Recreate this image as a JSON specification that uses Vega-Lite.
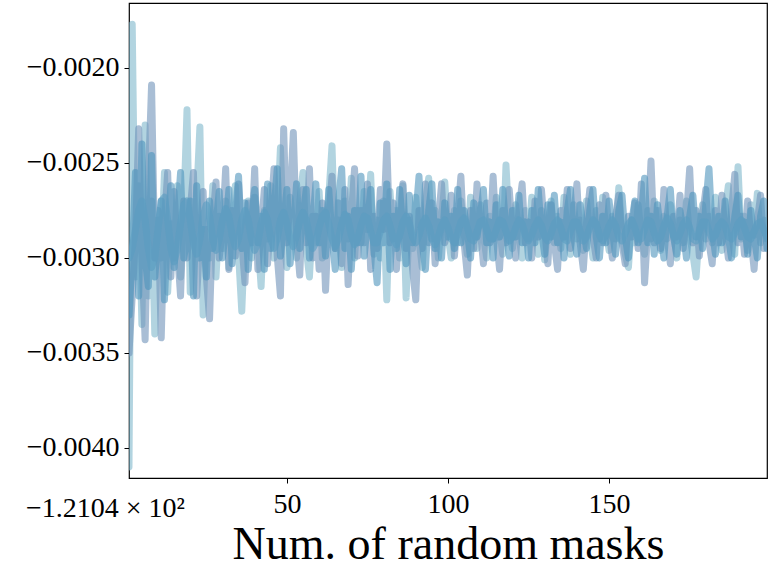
{
 "$schema": "https://vega.github.io/schema/vega-lite/v6.json",
 "width": 638,
 "height": 475,
 "autosize": "none",
 "padding": {"left": 129, "top": 3, "right": 10, "bottom": 89},
 "background": "white",
 "config": {"view": {"stroke": "black", "strokeWidth": 1.2}, "font": "Liberation Serif"},
 "datasets": {
  "runs": [
{"x":1,"a":-0.00410,"b":-0.00350,"c":-0.00330,"d":-0.00300},
{"x":2,"a":-0.00177,"b":-0.00320,"c":-0.00300,"d":-0.00295},
{"x":3,"a":-0.00310,"b":-0.00290,"c":-0.00255,"d":-0.00285},
{"x":4,"a":-0.00262,"b":-0.00232,"c":-0.00320,"d":-0.00275},
{"x":5,"a":-0.00335,"b":-0.00300,"c":-0.00240,"d":-0.00270},
{"x":6,"a":-0.00230,"b":-0.00343,"c":-0.00300,"d":-0.00280},
{"x":7,"a":-0.00320,"b":-0.00260,"c":-0.00315,"d":-0.00295},
{"x":8,"a":-0.00270,"b":-0.00209,"c":-0.00246,"d":-0.00305},
{"x":9,"a":-0.00340,"b":-0.00300,"c":-0.00310,"d":-0.00300},
{"x":10,"a":-0.00280,"b":-0.00275,"c":-0.00290,"d":-0.00285},
{"x":11,"a":-0.00300,"b":-0.00342,"c":-0.00270,"d":-0.00270},
{"x":12,"a":-0.00255,"b":-0.00280,"c":-0.00322,"d":-0.00268},
{"x":13,"a":-0.00318,"b":-0.00255,"c":-0.00285,"d":-0.00280},
{"x":14,"a":-0.00282,"b":-0.00310,"c":-0.00262,"d":-0.00295},
{"x":15,"a":-0.00300,"b":-0.00265,"c":-0.00305,"d":-0.00302},
{"x":16,"a":-0.00262,"b":-0.00295,"c":-0.00280,"d":-0.00295},
{"x":17,"a":-0.00310,"b":-0.00320,"c":-0.00255,"d":-0.00282},
{"x":18,"a":-0.00275,"b":-0.00270,"c":-0.00300,"d":-0.00272},
{"x":19,"a":-0.00222,"b":-0.00300,"c":-0.00290,"d":-0.00270},
{"x":20,"a":-0.00318,"b":-0.00275,"c":-0.00270,"d":-0.00280},
{"x":21,"a":-0.00290,"b":-0.00255,"c":-0.00320,"d":-0.00292},
{"x":22,"a":-0.00268,"b":-0.00320,"c":-0.00262,"d":-0.00298},
{"x":23,"a":-0.00231,"b":-0.00290,"c":-0.00300,"d":-0.00290},
{"x":24,"a":-0.00330,"b":-0.00265,"c":-0.00285,"d":-0.00278},
{"x":25,"a":-0.00285,"b":-0.00310,"c":-0.00310,"d":-0.00272},
{"x":26,"a":-0.00300,"b":-0.00332,"c":-0.00270,"d":-0.00278},
{"x":27,"a":-0.00262,"b":-0.00280,"c":-0.00295,"d":-0.00290},
{"x":28,"a":-0.00310,"b":-0.00260,"c":-0.00282,"d":-0.00296},
{"x":29,"a":-0.00278,"b":-0.00300,"c":-0.00265,"d":-0.00290},
{"x":30,"a":-0.00295,"b":-0.00285,"c":-0.00300,"d":-0.00280},
{"x":31,"a":-0.00270,"b":-0.00253,"c":-0.00285,"d":-0.00274},
{"x":32,"a":-0.00305,"b":-0.00306,"c":-0.00264,"d":-0.00278},
{"x":33,"a":-0.00280,"b":-0.00275,"c":-0.00303,"d":-0.00288},
{"x":34,"a":-0.00262,"b":-0.00299,"c":-0.00278,"d":-0.00294},
{"x":35,"a":-0.00298,"b":-0.00261,"c":-0.00257,"d":-0.00290},
{"x":36,"a":-0.00328,"b":-0.00292,"c":-0.00295,"d":-0.00280},
{"x":37,"a":-0.00285,"b":-0.00313,"c":-0.00271,"d":-0.00275},
{"x":38,"a":-0.00270,"b":-0.00271,"c":-0.00306,"d":-0.00280},
{"x":39,"a":-0.00300,"b":-0.00292,"c":-0.00281,"d":-0.00290},
{"x":40,"a":-0.00268,"b":-0.00253,"c":-0.00264,"d":-0.00296},
{"x":41,"a":-0.00290,"b":-0.00306,"c":-0.00292,"d":-0.00292},
{"x":42,"a":-0.00315,"b":-0.00285,"c":-0.00278,"d":-0.00282},
{"x":43,"a":-0.00275,"b":-0.00264,"c":-0.00306,"d":-0.00276},
{"x":44,"a":-0.00290,"b":-0.00303,"c":-0.00261,"d":-0.00280},
{"x":45,"a":-0.00262,"b":-0.00278,"c":-0.00295,"d":-0.00290},
{"x":46,"a":-0.00300,"b":-0.00253,"c":-0.00275,"d":-0.00295},
{"x":47,"a":-0.00280,"b":-0.00299,"c":-0.00253,"d":-0.00290},
{"x":48,"a":-0.00242,"b":-0.00320,"c":-0.00299,"d":-0.00280},
{"x":49,"a":-0.00290,"b":-0.00232,"c":-0.00281,"d":-0.00276},
{"x":50,"a":-0.00305,"b":-0.00292,"c":-0.00264,"d":-0.00282},
{"x":51,"a":-0.00268,"b":-0.00271,"c":-0.00303,"d":-0.00290},
{"x":52,"a":-0.00285,"b":-0.00234,"c":-0.00285,"d":-0.00294},
{"x":53,"a":-0.00300,"b":-0.00289,"c":-0.00261,"d":-0.00288},
{"x":54,"a":-0.00270,"b":-0.00309,"c":-0.00295,"d":-0.00280},
{"x":55,"a":-0.00255,"b":-0.00264,"c":-0.00278,"d":-0.00276},
{"x":56,"a":-0.00295,"b":-0.00292,"c":-0.00264,"d":-0.00280},
{"x":57,"a":-0.00310,"b":-0.00253,"c":-0.00300,"d":-0.00288},
{"x":58,"a":-0.00278,"b":-0.00300,"c":-0.00281,"d":-0.00295},
{"x":59,"a":-0.00292,"b":-0.00278,"c":-0.00261,"d":-0.00292},
{"x":60,"a":-0.00265,"b":-0.00306,"c":-0.00292,"d":-0.00284},
{"x":61,"a":-0.00300,"b":-0.00271,"c":-0.00275,"d":-0.00278},
{"x":62,"a":-0.00282,"b":-0.00317,"c":-0.00299,"d":-0.00276},
{"x":63,"a":-0.00268,"b":-0.00278,"c":-0.00264,"d":-0.00282},
{"x":64,"a":-0.00241,"b":-0.00257,"c":-0.00289,"d":-0.00290},
{"x":65,"a":-0.00295,"b":-0.00295,"c":-0.00306,"d":-0.00294},
{"x":66,"a":-0.00280,"b":-0.00271,"c":-0.00271,"d":-0.00290},
{"x":67,"a":-0.00305,"b":-0.00303,"c":-0.00253,"d":-0.00282},
{"x":68,"a":-0.00270,"b":-0.00264,"c":-0.00295,"d":-0.00277},
{"x":69,"a":-0.00290,"b":-0.00314,"c":-0.00278,"d":-0.00280},
{"x":70,"a":-0.00258,"b":-0.00278,"c":-0.00306,"d":-0.00288},
{"x":71,"a":-0.00300,"b":-0.00253,"c":-0.00275,"d":-0.00293},
{"x":72,"a":-0.00275,"b":-0.00299,"c":-0.00292,"d":-0.00290},
{"x":73,"a":-0.00292,"b":-0.00275,"c":-0.00257,"d":-0.00283},
{"x":74,"a":-0.00265,"b":-0.00292,"c":-0.00299,"d":-0.00278},
{"x":75,"a":-0.00285,"b":-0.00261,"c":-0.00281,"d":-0.00279},
{"x":76,"a":-0.00256,"b":-0.00306,"c":-0.00264,"d":-0.00286},
{"x":77,"a":-0.00298,"b":-0.00278,"c":-0.00295,"d":-0.00292},
{"x":78,"a":-0.00280,"b":-0.00295,"c":-0.00313,"d":-0.00292},
{"x":79,"a":-0.00300,"b":-0.00264,"c":-0.00271,"d":-0.00286},
{"x":80,"a":-0.00270,"b":-0.00285,"c":-0.00292,"d":-0.00280},
{"x":81,"a":-0.00322,"b":-0.00240,"c":-0.00261,"d":-0.00278},
{"x":82,"a":-0.00265,"b":-0.00292,"c":-0.00306,"d":-0.00283},
{"x":83,"a":-0.00290,"b":-0.00271,"c":-0.00278,"d":-0.00290},
{"x":84,"a":-0.00275,"b":-0.00306,"c":-0.00295,"d":-0.00293},
{"x":85,"a":-0.00300,"b":-0.00281,"c":-0.00264,"d":-0.00288},
{"x":86,"a":-0.00262,"b":-0.00261,"c":-0.00285,"d":-0.00281},
{"x":87,"a":-0.00321,"b":-0.00295,"c":-0.00303,"d":-0.00278},
{"x":88,"a":-0.00280,"b":-0.00278,"c":-0.00267,"d":-0.00282},
{"x":89,"a":-0.00295,"b":-0.00306,"c":-0.00292,"d":-0.00289},
{"x":90,"a":-0.00268,"b":-0.00322,"c":-0.00278,"d":-0.00292},
{"x":91,"a":-0.00290,"b":-0.00275,"c":-0.00257,"d":-0.00288},
{"x":92,"a":-0.00305,"b":-0.00295,"c":-0.00292,"d":-0.00282},
{"x":93,"a":-0.00272,"b":-0.00261,"c":-0.00306,"d":-0.00279},
{"x":94,"a":-0.00258,"b":-0.00292,"c":-0.00275,"d":-0.00283},
{"x":95,"a":-0.00290,"b":-0.00271,"c":-0.00261,"d":-0.00290},
{"x":96,"a":-0.00275,"b":-0.00303,"c":-0.00295,"d":-0.00293},
{"x":97,"a":-0.00300,"b":-0.00281,"c":-0.00281,"d":-0.00289},
{"x":98,"a":-0.00280,"b":-0.00261,"c":-0.00300,"d":-0.00283},
{"x":99,"a":-0.00260,"b":-0.00292,"c":-0.00271,"d":-0.00280},
{"x":100,"a":-0.00288,"b":-0.00285,"c":-0.00289,"d":-0.00284},
{"x":101,"a":-0.00300,"b":-0.00267,"c":-0.00278,"d":-0.00290},
{"x":102,"a":-0.00275,"b":-0.00299,"c":-0.00295,"d":-0.00292},
{"x":103,"a":-0.00292,"b":-0.00278,"c":-0.00264,"d":-0.00287},
{"x":104,"a":-0.00270,"b":-0.00257,"c":-0.00292,"d":-0.00281},
{"x":105,"a":-0.00285,"b":-0.00292,"c":-0.00275,"d":-0.00279},
{"x":106,"a":-0.00298,"b":-0.00309,"c":-0.00286,"d":-0.00284},
{"x":107,"a":-0.00268,"b":-0.00275,"c":-0.00300,"d":-0.00290},
{"x":108,"a":-0.00282,"b":-0.00295,"c":-0.00271,"d":-0.00291},
{"x":109,"a":-0.00295,"b":-0.00261,"c":-0.00289,"d":-0.00286},
{"x":110,"a":-0.00272,"b":-0.00285,"c":-0.00278,"d":-0.00281},
{"x":111,"a":-0.00288,"b":-0.00303,"c":-0.00264,"d":-0.00280},
{"x":112,"a":-0.00300,"b":-0.00271,"c":-0.00292,"d":-0.00285},
{"x":113,"a":-0.00278,"b":-0.00292,"c":-0.00281,"d":-0.00290},
{"x":114,"a":-0.00290,"b":-0.00257,"c":-0.00300,"d":-0.00290},
{"x":115,"a":-0.00268,"b":-0.00289,"c":-0.00272,"d":-0.00285},
{"x":116,"a":-0.00285,"b":-0.00306,"c":-0.00289,"d":-0.00280},
{"x":117,"a":-0.00298,"b":-0.00275,"c":-0.00264,"d":-0.00281},
{"x":118,"a":-0.00251,"b":-0.00292,"c":-0.00285,"d":-0.00286},
{"x":119,"a":-0.00285,"b":-0.00264,"c":-0.00299,"d":-0.00291},
{"x":120,"a":-0.00295,"b":-0.00286,"c":-0.00275,"d":-0.00289},
{"x":121,"a":-0.00272,"b":-0.00300,"c":-0.00289,"d":-0.00284},
{"x":122,"a":-0.00288,"b":-0.00275,"c":-0.00267,"d":-0.00280},
{"x":123,"a":-0.00300,"b":-0.00261,"c":-0.00292,"d":-0.00282},
{"x":124,"a":-0.00275,"b":-0.00292,"c":-0.00281,"d":-0.00288},
{"x":125,"a":-0.00290,"b":-0.00281,"c":-0.00300,"d":-0.00291},
{"x":126,"a":-0.00268,"b":-0.00300,"c":-0.00275,"d":-0.00288},
{"x":127,"a":-0.00285,"b":-0.00270,"c":-0.00292,"d":-0.00283},
{"x":128,"a":-0.00298,"b":-0.00289,"c":-0.00264,"d":-0.00280},
{"x":129,"a":-0.00275,"b":-0.00264,"c":-0.00286,"d":-0.00283},
{"x":130,"a":-0.00301,"b":-0.00285,"c":-0.00298,"d":-0.00289},
{"x":131,"a":-0.00282,"b":-0.00303,"c":-0.00272,"d":-0.00291},
{"x":132,"a":-0.00270,"b":-0.00272,"c":-0.00289,"d":-0.00287},
{"x":133,"a":-0.00292,"b":-0.00292,"c":-0.00267,"d":-0.00282},
{"x":134,"a":-0.00278,"b":-0.00306,"c":-0.00292,"d":-0.00280},
{"x":135,"a":-0.00295,"b":-0.00275,"c":-0.00281,"d":-0.00284},
{"x":136,"a":-0.00268,"b":-0.00289,"c":-0.00300,"d":-0.00290},
{"x":137,"a":-0.00285,"b":-0.00264,"c":-0.00275,"d":-0.00291},
{"x":138,"a":-0.00298,"b":-0.00295,"c":-0.00264,"d":-0.00286},
{"x":139,"a":-0.00272,"b":-0.00278,"c":-0.00289,"d":-0.00281},
{"x":140,"a":-0.00290,"b":-0.00261,"c":-0.00298,"d":-0.00281},
{"x":141,"a":-0.00280,"b":-0.00292,"c":-0.00272,"d":-0.00286},
{"x":142,"a":-0.00296,"b":-0.00306,"c":-0.00284,"d":-0.00291},
{"x":143,"a":-0.00270,"b":-0.00281,"c":-0.00295,"d":-0.00289},
{"x":144,"a":-0.00288,"b":-0.00264,"c":-0.00275,"d":-0.00284},
{"x":145,"a":-0.00300,"b":-0.00289,"c":-0.00264,"d":-0.00280},
{"x":146,"a":-0.00275,"b":-0.00300,"c":-0.00289,"d":-0.00282},
{"x":147,"a":-0.00290,"b":-0.00272,"c":-0.00300,"d":-0.00288},
{"x":148,"a":-0.00268,"b":-0.00292,"c":-0.00278,"d":-0.00291},
{"x":149,"a":-0.00285,"b":-0.00267,"c":-0.00292,"d":-0.00288},
{"x":150,"a":-0.00296,"b":-0.00286,"c":-0.00270,"d":-0.00283},
{"x":151,"a":-0.00278,"b":-0.00300,"c":-0.00286,"d":-0.00280},
{"x":152,"a":-0.00290,"b":-0.00278,"c":-0.00298,"d":-0.00283},
{"x":153,"a":-0.00263,"b":-0.00267,"c":-0.00275,"d":-0.00289},
{"x":154,"a":-0.00288,"b":-0.00292,"c":-0.00267,"d":-0.00291},
{"x":155,"a":-0.00298,"b":-0.00303,"c":-0.00289,"d":-0.00287},
{"x":156,"a":-0.00305,"b":-0.00278,"c":-0.00300,"d":-0.00282},
{"x":157,"a":-0.00280,"b":-0.00289,"c":-0.00281,"d":-0.00280},
{"x":158,"a":-0.00292,"b":-0.00271,"c":-0.00270,"d":-0.00284},
{"x":159,"a":-0.00272,"b":-0.00295,"c":-0.00292,"d":-0.00290},
{"x":160,"a":-0.00288,"b":-0.00261,"c":-0.00278,"d":-0.00290},
{"x":161,"a":-0.00298,"b":-0.00313,"c":-0.00258,"d":-0.00285},
{"x":162,"a":-0.00275,"b":-0.00285,"c":-0.00292,"d":-0.00280},
{"x":163,"a":-0.00290,"b":-0.00249,"c":-0.00278,"d":-0.00281},
{"x":164,"a":-0.00270,"b":-0.00292,"c":-0.00298,"d":-0.00287},
{"x":165,"a":-0.00285,"b":-0.00275,"c":-0.00272,"d":-0.00291},
{"x":166,"a":-0.00296,"b":-0.00295,"c":-0.00286,"d":-0.00289},
{"x":167,"a":-0.00278,"b":-0.00264,"c":-0.00300,"d":-0.00283},
{"x":168,"a":-0.00290,"b":-0.00289,"c":-0.00278,"d":-0.00279},
{"x":169,"a":-0.00272,"b":-0.00303,"c":-0.00264,"d":-0.00282},
{"x":170,"a":-0.00286,"b":-0.00278,"c":-0.00289,"d":-0.00288},
{"x":171,"a":-0.00300,"b":-0.00289,"c":-0.00298,"d":-0.00291},
{"x":172,"a":-0.00280,"b":-0.00267,"c":-0.00275,"d":-0.00287},
{"x":173,"a":-0.00292,"b":-0.00295,"c":-0.00286,"d":-0.00282},
{"x":174,"a":-0.00270,"b":-0.00278,"c":-0.00300,"d":-0.00280},
{"x":175,"a":-0.00288,"b":-0.00253,"c":-0.00278,"d":-0.00284},
{"x":176,"a":-0.00298,"b":-0.00292,"c":-0.00267,"d":-0.00290},
{"x":177,"a":-0.00310,"b":-0.00275,"c":-0.00289,"d":-0.00291},
{"x":178,"a":-0.00285,"b":-0.00299,"c":-0.00278,"d":-0.00286},
{"x":179,"a":-0.00272,"b":-0.00278,"c":-0.00295,"d":-0.00281},
{"x":180,"a":-0.00290,"b":-0.00264,"c":-0.00272,"d":-0.00281},
{"x":181,"a":-0.00278,"b":-0.00292,"c":-0.00253,"d":-0.00286},
{"x":182,"a":-0.00292,"b":-0.00303,"c":-0.00286,"d":-0.00290},
{"x":183,"a":-0.00268,"b":-0.00275,"c":-0.00298,"d":-0.00288},
{"x":184,"a":-0.00286,"b":-0.00292,"c":-0.00278,"d":-0.00283},
{"x":185,"a":-0.00296,"b":-0.00267,"c":-0.00292,"d":-0.00281},
{"x":186,"a":-0.00275,"b":-0.00286,"c":-0.00270,"d":-0.00283},
{"x":187,"a":-0.00262,"b":-0.00300,"c":-0.00289,"d":-0.00289},
{"x":188,"a":-0.00288,"b":-0.00275,"c":-0.00300,"d":-0.00290},
{"x":189,"a":-0.00298,"b":-0.00256,"c":-0.00278,"d":-0.00287},
{"x":190,"a":-0.00252,"b":-0.00292,"c":-0.00267,"d":-0.00282},
{"x":191,"a":-0.00290,"b":-0.00278,"c":-0.00289,"d":-0.00280},
{"x":192,"a":-0.00278,"b":-0.00298,"c":-0.00281,"d":-0.00284},
{"x":193,"a":-0.00296,"b":-0.00270,"c":-0.00298,"d":-0.00289},
{"x":194,"a":-0.00272,"b":-0.00289,"c":-0.00275,"d":-0.00290},
{"x":195,"a":-0.00288,"b":-0.00306,"c":-0.00289,"d":-0.00286},
{"x":196,"a":-0.00266,"b":-0.00281,"c":-0.00300,"d":-0.00282},
{"x":197,"a":-0.00292,"b":-0.00267,"c":-0.00278,"d":-0.00281},
{"x":198,"a":-0.00280,"b":-0.00295,"c":-0.00270,"d":-0.00285},
{"x":199,"a":-0.00290,"b":-0.00286,"c":-0.00295,"d":-0.00289}
  ],
  "offset": [{"x": 1, "y": -0.004158, "t": "−1.2104 × 10²"}]
 },
 "layer": [
  {
   "data": {"name": "runs"},
   "transform": [{"fold": ["a", "b", "c", "d"], "as": ["run", "val"]}],
   "mark": {"type": "line", "strokeWidth": 7, "strokeCap": "round", "strokeJoin": "round", "opacity": 0.6, "clip": true},
   "encoding": {
    "x": {"field": "x", "type": "quantitative", "scale": {"domain": [1, 199], "nice": false, "zero": false},
      "title": "Num. of random masks",
      "axis": {"values": [50, 100, 150], "grid": false, "domain": false, "tickSize": 5, "tickColor": "black", "tickWidth": 1,
        "labelFontSize": 28, "labelColor": "black", "labelPadding": 7, "labelFont": "Liberation Serif",
        "titleFontSize": 46, "titleFontWeight": "normal", "titleColor": "black", "titlePadding": 4, "titleFont": "Liberation Serif"}},
    "y": {"field": "val", "type": "quantitative", "scale": {"domain": [-0.004158, -0.001658], "nice": false, "zero": false},
      "title": null,
      "axis": {"values": [-0.004, -0.0035, -0.003, -0.0025, -0.002], "format": ".4f", "grid": false, "domain": false,
        "tickSize": 5, "tickColor": "black", "tickWidth": 1, "labelFontSize": 28, "labelColor": "black", "labelPadding": 5,
        "labelFont": "Liberation Serif"}},
    "color": {"field": "run", "type": "nominal", "legend": null,
      "scale": {"domain": ["a", "b", "c", "d"], "range": ["#7fb8cc", "#6f93b9", "#4f95bc", "#5a9cc2"]}}
   }
  },
  {
   "data": {"name": "offset"},
   "mark": {"type": "text", "align": "left", "baseline": "alphabetic", "dx": -103, "dy": 39, "fontSize": 28, "font": "Liberation Serif", "color": "black"},
   "encoding": {
    "x": {"field": "x", "type": "quantitative", "axis": null},
    "y": {"field": "y", "type": "quantitative", "axis": null},
    "text": {"field": "t"}
   }
  }
 ],
 "resolve": {"axis": {"x": "independent", "y": "independent"}}
}
